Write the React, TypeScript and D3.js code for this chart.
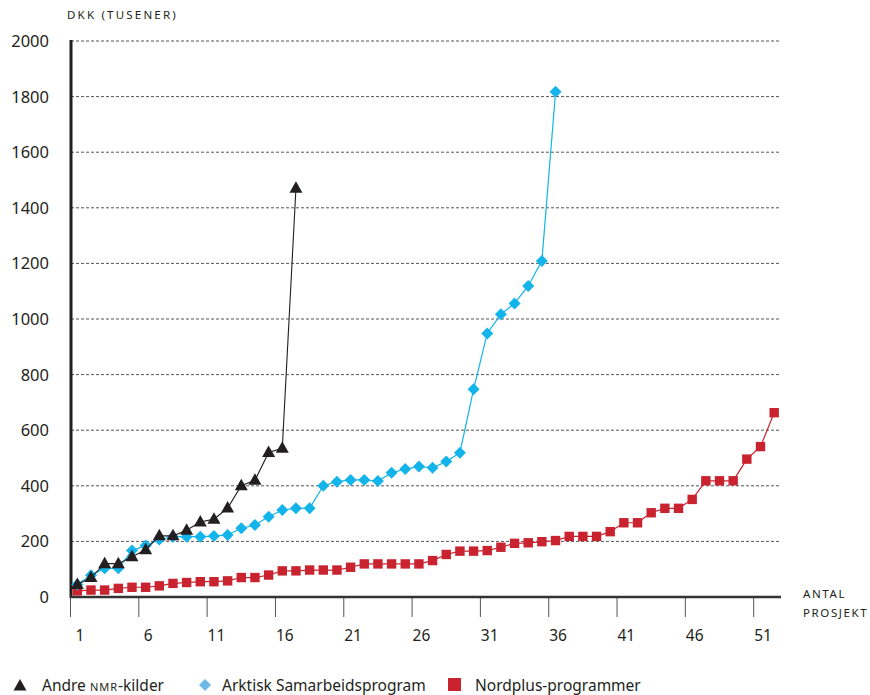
import React from "react";
import * as d3 from "d3";

const andreNmr = [45, 70, 120, 120, 145, 170, 220, 220, 240, 270, 280, 320, 400, 420, 520, 535, 1470];
const arktisk = [45, 78, 103, 103, 167, 185, 207, 217, 217, 217, 219, 223, 247, 259, 289, 313, 319, 319, 400, 415, 421, 421, 417, 447, 460, 469, 465, 487, 519, 747, 948, 1017, 1056, 1119, 1209, 1817];
const nordplus = [22, 25, 25, 31, 35, 35, 40, 49, 52, 55, 55, 58, 70, 70, 79, 94, 94, 97, 97, 97, 107, 119, 119, 119, 119, 119, 131, 153, 165, 165, 167, 179, 193, 195, 199, 203, 218, 218, 218, 235, 267, 267, 303, 319, 319, 351, 418, 418, 418, 496, 541, 663];
const yTicks = [0, 200, 400, 600, 800, 1000, 1200, 1400, 1600, 1800, 2000];
const xTickLabels = [1, 6, 11, 16, 21, 26, 31, 36, 41, 46, 51];
const projects = d3.range(1, 53);

const FONT = "'Noto Sans', 'Open Sans', sans-serif";
const BLACK = "#231f20";
const BLUE = "#12b4ea";
const RED = "#c9232f";

export default function App() {
  const x = d3.scaleBand<number>().domain(projects).range([70.5, 781]).padding(0);
  const bw = x.bandwidth();
  const cx = (i: number) => (x(i + 1) as number) + bw / 2;
  const y = d3.scaleLinear().domain([0, 2000]).range([597, 41]);
  const line = d3
    .line<number>()
    .x((_, i) => cx(i))
    .y((d) => y(d));

  const tri = (px: number, py: number, k: string) => (
    <path key={k} d={`M${px},${py - 7}L${px + 6.5},${py + 4.5}L${px - 6.5},${py + 4.5}Z`} fill={BLACK} />
  );
  const dia = (px: number, py: number, k: string, c = BLUE) => (
    <path key={k} d={`M${px},${py - 6}L${px + 6},${py}L${px},${py + 6}L${px - 6},${py}Z`} fill={c} />
  );
  const sq = (px: number, py: number, k: string) => (
    <rect key={k} x={px - 4.7} y={py - 4.7} width={9.4} height={9.4} fill={RED} />
  );

  return (
    <div style={{ position: "absolute", left: 0, top: 0 }}>
      <svg width={870} height={695} style={{ display: "block", fontFamily: FONT }}>
        <rect width={870} height={695} fill="#fff" />
        {/* gridlines */}
        {yTicks
          .filter((t) => t > 0)
          .map((t) => (
            <line key={t} x1={71} x2={781} y1={y(t)} y2={y(t)} stroke="#555" strokeWidth={1} strokeDasharray="3,2" />
          ))}
        {/* y tick labels */}
        {yTicks.map((t) => (
          <text key={t} x={49} y={y(t)} dy="0.36em" textAnchor="end" fontSize={16.5} fill="#231f20">
            {t}
          </text>
        ))}
        <text x={67} y={19} fontSize={11.5} letterSpacing={2.2} fill="#231f20">
          DKK (TUSENER)
        </text>
        {/* x ticks */}
        {xTickLabels.map((t) => (
          <g key={t}>
            <line x1={x(t) as number} x2={x(t) as number} y1={597} y2={617} stroke="#555" strokeWidth={1} />
            <text x={cx(t - 1) + 2.5} y={641} textAnchor="middle" fontSize={15.5} fill="#231f20">
              {t}
            </text>
          </g>
        ))}
        <text x={803} y={598} fontSize={11.5} letterSpacing={1.6} fill="#231f20">ANTAL</text>
        <text x={803} y={617} fontSize={11.5} letterSpacing={1.6} fill="#231f20">PROSJEKT</text>
        {/* axes */}
        <line x1={71} x2={71} y1={40} y2={598} stroke={BLACK} strokeWidth={3} />
        <line x1={70} x2={781} y1={597} y2={597} stroke="#333" strokeWidth={2.5} />
        {/* series */}
        <path d={line(nordplus) as string} fill="none" stroke={RED} strokeWidth={1.2} />
        {nordplus.map((v, i) => sq(cx(i), y(v), "r" + i))}
        <path d={line(arktisk) as string} fill="none" stroke={BLUE} strokeWidth={1.2} />
        {arktisk.map((v, i) => dia(cx(i), y(v), "b" + i))}
        <path d={line(andreNmr) as string} fill="none" stroke={BLACK} strokeWidth={1.1} />
        {andreNmr.map((v, i) => tri(cx(i), y(v), "k" + i))}
        {/* legend */}
        {tri(20, 686, "lt")}
        <text x={42} y={691} fontSize={15.5} fill="#231f20">
          Andre <tspan fontSize={11} letterSpacing={1}>NMR</tspan>-kilder
        </text>
        {dia(205, 685, "ld", "#6cb9e8")}
        <text x={222} y={691} fontSize={15.5} fill="#231f20">Arktisk Samarbeidsprogram</text>
        <rect x={448} y={678} width={13} height={13} fill={RED} />
        <text x={475} y={691} fontSize={15.5} fill="#231f20">Nordplus-programmer</text>
      </svg>
    </div>
  );
}
